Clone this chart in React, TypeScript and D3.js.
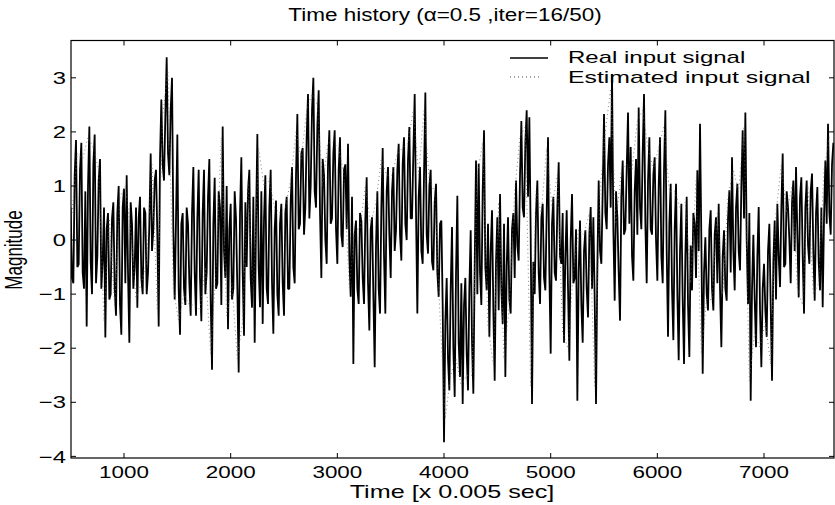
import React from "react";
import * as d3 from "d3";

// ---- data ----
// Real input signal: samples every 25 time units starting at 500 ...
const realStart = 500;
const realStep = 25;
const realSignal = [
  0.6, -0.8, 1.85, -0.45, 1.8, -0.9, -1.6, 2.1, -1.0, 1.95,
  -0.3, 1.5, -0.4, -1.8, 0.5, -1.0, 0.7, -1.4, 1.0, -1.75,
  0.95, 1.2, -1.9, 0.3, -0.5, -1.25, 0.8, -1.0, 0.5, -0.6,
  1.6, 0.2, 1.3, -1.6, 2.6, 1.1, 3.38, 1.2, 3.0, -1.1,
  1.95, -1.75, 0.5, -1.2, 0.3, -1.4, 1.35, -1.4, 1.3, -1.5,
  1.3, -0.6, 1.5, -2.4, 1.15, -0.8, 0.6, 2.1, -0.7, -1.65,
  0.67, -0.9, 0.4, -2.45, 1.53, -1.77, -0.5, 1.3, -1.25, -1.9,
  1.96, -1.24, -1.55, 1.2, -1.18, 1.3, -1.73, 0.73, -1.4, 0.67,
  -1.4, 0.8, -0.9, 1.35, -0.8, 2.33, 0.3, 1.7, 0.6, 2.7,
  1.0, 3.0, 0.6, 2.77, -0.7, 1.2, -0.44, 2.03, 0.4, 2.03,
  -0.44, 1.9, -0.13, 1.4, 1.78, -1.05, -2.29, 0.36, -1.18, 0.36,
  -1.18, 1.16, -1.67, 0.42, -2.35, 0.9, -1.36, 1.7, -1.36, 1.35,
  -0.7, 1.35, 0.18, 1.78, -0.38, 1.9, 0.0, 2.09, 0.4, 2.7,
  -1.36, 1.35, -0.44, 2.73, -0.25, 1.3, -0.56, 1.04, -1.05, 0.36,
  -3.74, -0.7, -2.78, 0.24, -2.9, 0.82, -2.53, -3.03, -0.7, -2.78,
  0.18, -2.84, 1.47, 1.41, -1.2, 2.03, -0.93, -1.79, 0.55, -2.6,
  0.42, 0.85, -1.55, -2.53, 0.42, -1.36, 0.5, 1.1, -0.38, 2.2,
  0.42, 2.4, 2.27, -3.03, -1.0, 1.1, -1.18, 0.67, -0.93, 1.9,
  -2.1, 0.8, -0.75, 1.44, -0.44, -1.9, 0.55, -2.23, 0.85, -0.7,
  -2.97, 0.36, -1.9, 0.18, -1.43, 0.61, 0.42, -3.03, 1.1, -0.44,
  2.33, 0.2, 1.9, 3.07, -1.12, 0.42, -1.49, 1.47, 0.2, 2.36,
  1.72, -0.75, 1.5, 2.45, 0.2, 2.7, -0.8, 1.9, 0.1, 1.53,
  -0.75, 1.9, -0.8, 2.4, -1.79, 1.04, -1.85, 1.04, -2.22, 0.67,
  -2.29, 0.8, -2.16, -0.93, 0.3, 1.29, 2.15, -2.47, 0.05, -1.3,
  0.55, -1.3, 0.42, 0.67, -1.98, 0.18, -1.12, 0.92, 1.53, -0.93,
  1.04, -0.56, 2.03, 2.36, -1.18, -2.97, 0.1, -1.98, 0.61, -2.35,
  -0.44, -1.79, 0.3, -2.6, 0.36, 0.67, -0.87, 1.6, -0.44, 0.61,
  -0.8, 1.1, 1.35, -1.06, 1.16, -1.36, 1.1, -0.44, 1.23, -1.12,
  0.98, -0.93, -1.24, 1.47, 2.15, 0.1, 1.8,
];
// ... and the in-between swings of the same signal (half a step later)
const realSignalMid = [
  -0.7, 1.2, -0.5, 1.3, -0.6, 0.9, 1.0, -0.4, 1.4, -0.8,
  1.1, -0.9, 0.6, 0.2, -1.1, 0.4, -0.9, 0.5, -1.2, 0.6,
  -0.8, -0.6, 0.7, -0.9, 0.6, 0.4, -0.7, 0.6, -1.0, 0.3,
  -0.2, 1.1, 0.1, 1.5, 1.4, 2.3, 1.6, 2.4, 0.2, 0.4,
  -0.9, 0.3, -0.9, 0.6, -0.8, 0.5, -0.6, 0.4, -0.7, 0.5,
  -1.0, 0.8, -1.1, 0.3, -0.9, 0.9, -1.2, -0.2, 1.0, 0.2,
  -1.1, 0.9, -0.9, 0.5, -0.6, 0.7, 0.9, -0.7, 0.8, 0.3,
  -0.5, 0.9, 0.4, -0.9, 0.6, -0.8, 0.2, -1.0, 0.3, -0.8,
  0.5, -0.9, 0.7, -0.5, 1.2, 0.2, 1.6, 0.1, 1.9, 0.4,
  2.4, 0.9, 2.1, 0.5, 1.5, 0.0, 1.4, 0.3, 1.6, 0.2,
  1.3, 0.1, 1.3, 0.2, -0.3, 0.8, 0.1, -0.9, 0.5, -0.7,
  0.4, -0.8, 0.2, -1.0, -0.1, -0.9, 0.6, -0.3, 0.9, 0.1,
  0.9, -0.2, 1.3, 0.1, 1.4, 0.3, 1.5, 0.4, 1.6, 0.5,
  0.8, -0.2, 1.2, 0.1, 1.0, -0.4, 0.7, -0.6, 0.3, -1.2,
  -1.5, -2.2, -0.9, -2.0, -0.6, -1.9, -0.8, -1.2, -2.1, -0.9,
  -1.9, -0.5, -1.0, -0.6, 0.9, -0.5, 0.3, -0.2, -1.3, -0.4,
  -1.3, -0.9, 0.3, -0.5, -1.1, 0.2, -0.7, -0.1, 1.2, 0.6,
  1.8, 0.8, 0.1, -0.4, 0.5, -0.6, 0.4, -0.7, 0.5, -0.6,
  0.3, -0.6, 0.6, -0.3, 0.5, -0.3, -0.9, 0.0, -0.8, 0.2,
  -0.6, -1.2, -0.2, -0.9, 0.1, -0.9, -1.1, -0.5, -0.2, 0.9,
  0.5, 1.4, 0.6, 0.2, 0.9, -0.6, 0.8, 0.1, 1.3, 0.3,
  -0.3, 0.9, 0.1, 0.6, 1.6, 0.3, 1.1, 0.2, 1.2, 0.0,
  1.0, -0.3, 1.3, -0.2, 0.3, -0.9, 0.2, -1.0, -0.2, -1.1,
  -0.3, -1.2, -0.1, 0.5, -0.7, -0.2, 0.0, -0.6, -1.0, 0.2,
  -0.9, 0.1, -0.8, -0.9, -0.3, -0.9, 0.4, -0.6, -0.2, 0.6,
  -0.2, 1.0, 0.4, 0.0, 0.5, -0.9, -1.1, -0.3, -1.3, -0.9,
  -1.3, -0.2, -1.2, -0.4, -1.1, -0.3, 0.6, -0.5, 0.9, 0.0,
  0.7, -0.2, 0.1, 0.8, -0.3, 0.6, -0.1, 0.9, -0.2, 0.5,
  -0.4, 0.6, 0.4, 0.3, 0.5, 1.4,
];

const estStart = 512;
const estStep = 50;
const estimatedSignal = [
  0.5, 1.6, 1.5, 1.9, 1.7, 1.3, -1.5, 0.4, -1.2, 0.8,
  1.0, 0.2, -1.1, -0.8, -0.4, 1.4, -1.3, 2.3, 3.1, -0.9,
  -1.5, -1.0, -1.2, -1.2, -1.3, -0.5, -2.1, -0.6, 1.9, -1.4,
  -0.8, -2.2, -1.5, 1.1, -1.0, 1.7, 1.0, 1.1, 0.6, 0.5,
  0.6, 1.1, 2.0, 1.5, 2.4, 2.7, 2.5, 1.0, 1.8, 1.8,
  1.7, 1.2, -0.9, 0.2, 0.2, 1.0, 0.3, 0.7, 1.5, 1.2,
  1.2, 1.6, 1.7, 1.8, 2.4, 1.2, 2.4, 1.1, 0.9, -1.4,
  -3.3, -2.5, -2.2, -2.7, -2.5, -2.5, 1.2, 1.8, -1.6, -2.3,
  0.7, -2.2, -1.2, 0.9, 1.9, 2.1, -2.7, 0.9, 0.5, 1.7,
  0.6, 1.2, -1.7, -2.0, -0.6, 0.2, 0.1, 0.5, -2.7, 0.9,
  2.0, 2.8, 0.3, 1.3, 1.4, 1.3, 2.2, 2.4, 1.7, 1.3,
  1.7, 2.1, 0.9, 0.9, 0.6, 0.7, -0.8, 1.1, -2.1, -1.1,
  -1.1, 0.5, -1.0, 0.8, 1.3, 0.9, 2.1, -2.6, -1.7, -2.0,
  -1.5, -2.3, 0.5, 1.4, 0.5, 1.0, -0.9, -1.2, 1.0, -1.0,
  -0.8, 1.3, 1.9,
];

const xTicks = [1000, 2000, 3000, 4000, 5000, 6000, 7000];
const yTicks = [-4, -3, -2, -1, 0, 1, 2, 3];
const titleText = "Time history (\u03b1=0.5 ,iter=16/50)";
const xLabelText = "Time [x 0.005 sec]";
const yLabelText = "Magnitude";
const legendLabels = ["Real input signal", "Estimated input signal"];

// ---- layout ----
const W = 835;
const H = 505;
const L = 71;
const R = 834;
const TOP = 40.5;
const BOT = 458;
const SX = 1.4;
const FONT = "'Liberation Sans', Arial, Helvetica, sans-serif";

type STextProps = {
  x: number;
  y: number;
  size: number;
  anchor?: "start" | "middle" | "end";
  children: React.ReactNode;
  dy?: string;
  sx?: number;
};

function SText({ x, y, size, anchor = "start", children, dy, sx = SX }: STextProps) {
  return (
    <text
      transform={`translate(${x},${y}) scale(${sx},1)`}
      fontSize={size}
      fontFamily={FONT}
      textAnchor={anchor}
      dy={dy}
      fill="#000"
    >
      {children}
    </text>
  );
}

export default function App() {
  const x = d3.scaleLinear().domain([503, 7656]).range([L, R]);
  const y = d3.scaleLinear().domain([-4.03, 3.69]).range([BOT, TOP]);

  const realPts: [number, number][] = [];
  realSignal.forEach((v, i) => {
    const t = realStart + i * realStep;
    realPts.push([t, v]);
    if (i < realSignalMid.length) realPts.push([t + realStep / 2, realSignalMid[i]]);
  });
  const estPts: [number, number][] = estimatedSignal.map((v, i) => [estStart + i * estStep, v]);

  const line = d3
    .line<[number, number]>()
    .x((d) => x(d[0]))
    .y((d) => y(d[1]));

  const tl = 5;

  return (
    <svg
      width={W}
      height={H}
      style={{ position: "absolute", left: 0, top: 0, background: "#fff", display: "block" }}
    >
      <rect x={0} y={0} width={W} height={H} fill="#fff" />
      <defs>
        <clipPath id="plotclip">
          <rect x={L} y={TOP} width={R - L} height={BOT - TOP} />
        </clipPath>
      </defs>

      {/* title */}
      <SText x={445} y={21} size={18} anchor="middle" sx={1.25}>
        {titleText}
      </SText>

      {/* signals */}
      <g clipPath="url(#plotclip)">
        <path d={line(realPts) || ""} fill="none" stroke="#000" strokeWidth={1.8} strokeLinejoin="bevel" />
        <path
          d={line(estPts) || ""}
          fill="none"
          stroke="#666"
          strokeWidth={0.8}
          strokeDasharray="1,3"
        />
      </g>

      {/* frame */}
      <rect x={L} y={TOP} width={R - L} height={BOT - TOP} fill="none" stroke="#000" strokeWidth={1.2} />

      {/* x ticks */}
      {xTicks.map((t) => (
        <g key={"xt" + t}>
          <line x1={x(t)} x2={x(t)} y1={BOT} y2={BOT - tl} stroke="#000" />
          <line x1={x(t)} x2={x(t)} y1={TOP} y2={TOP + tl} stroke="#000" />
          <SText x={x(t)} y={478} size={16} anchor="middle">
            {String(t)}
          </SText>
        </g>
      ))}

      {/* y ticks */}
      {yTicks.map((t) => (
        <g key={"yt" + t}>
          <line x1={L} x2={L + tl} y1={y(t)} y2={y(t)} stroke="#000" />
          <line x1={R} x2={R - tl} y1={y(t)} y2={y(t)} stroke="#000" />
          <SText x={66} y={y(t)} size={17} anchor="end" dy="0.36em">
            {t < 0 ? "\u2212" + Math.abs(t) : String(t)}
          </SText>
        </g>
      ))}

      {/* axis labels */}
      <SText x={452} y={498} size={18} anchor="middle" sx={1.4}>
        {xLabelText}
      </SText>
      <text
        transform={`translate(22,250) scale(${SX},1) rotate(-90)`}
        fontSize={17}
        fontFamily={FONT}
        textAnchor="middle"
        fill="#000"
      >
        {yLabelText}
      </text>

      {/* legend */}
      <line x1={510} x2={548} y1={58} y2={58} stroke="#000" strokeWidth={1.3} />
      <SText x={568} y={63} size={16} sx={1.5}>
        {legendLabels[0]}
      </SText>
      <line x1={510} x2={542} y1={77} y2={77} stroke="#444" strokeWidth={1} strokeDasharray="1,3" />
      <SText x={568} y={83} size={16} sx={1.55}>
        {legendLabels[1]}
      </SText>
    </svg>
  );
}
